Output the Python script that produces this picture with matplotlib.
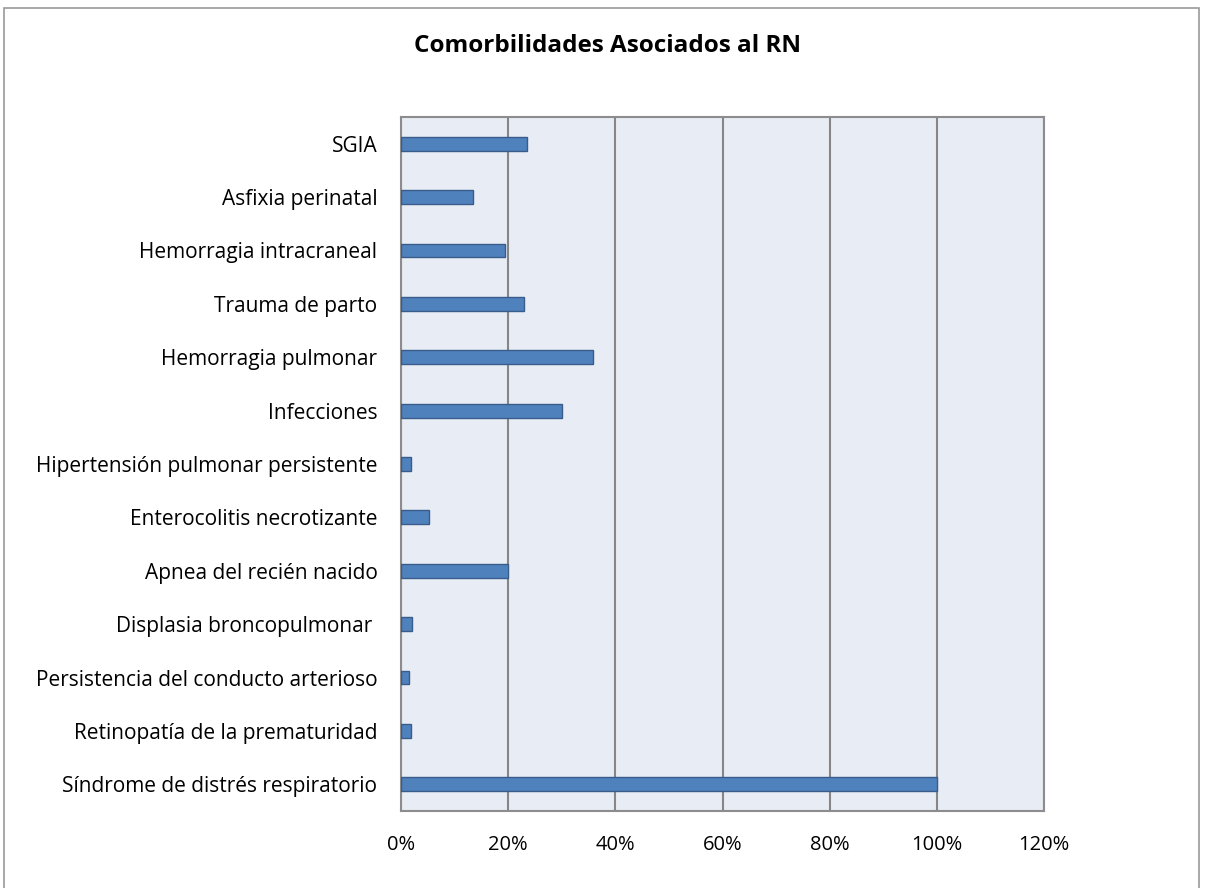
import matplotlib
matplotlib.use("Agg")
import matplotlib.pyplot as plt
from matplotlib.patches import Rectangle

# Comorbidities, listed bottom to top as drawn on the y axis
categories = [
    "Síndrome de distrés respiratorio",
    "Retinopatía de la prematuridad",
    "Persistencia del conducto arterioso",
    "Displasia broncopulmonar ",
    "Apnea del recién nacido",
    "Enterocolitis necrotizante",
    "Hipertensión pulmonar persistente",
    "Infecciones",
    "Hemorragia pulmonar",
    "Trauma de parto",
    "Hemorragia intracraneal",
    "Asfixia perinatal",
    "SGIA",
]
# Share of newborns with each comorbidity (%)
values = [100, 1.9, 1.4, 2.1, 20, 5.3, 1.8, 30.1, 35.9, 22.9, 19.4, 13.5, 23.5]
x_ticks = [0, 20, 40, 60, 80, 100, 120]
x_tick_labels = ["0%", "20%", "40%", "60%", "80%", "100%", "120%"]
title = "Comorbilidades Asociados al RN"

plt.rcParams["font.family"] = ["Open Sans", "DejaVu Sans"]

fig = plt.figure(figsize=(12.05, 8.88), dpi=100)
fig.patch.set_facecolor("white")

# Outer chart frame
fig.add_artist(Rectangle((4 / 1205, -0.01), 1195 / 1205, 1 - 8 / 888 + 0.01,
                         transform=fig.transFigure, fill=False,
                         edgecolor="#9a9a9a", linewidth=1.2))

ax = fig.add_axes([401 / 1205, 1 - 811 / 888, 643 / 1205, 694 / 888])
ax.set_facecolor("#e8ecf4")

y = list(range(len(categories)))
ax.barh(y, values, height=0.26, color="#4f81bd", edgecolor="#385d8a",
        linewidth=1.0, zorder=3)

ax.set_xlim(0, 120)
ax.set_ylim(-0.5, len(categories) - 0.5)
ax.set_xticks(x_ticks)
ax.set_xticklabels(x_tick_labels)
ax.set_yticks(y)
ax.set_yticklabels(categories)
ax.tick_params(axis="x", length=0, pad=17, labelsize=14.5, colors="black")
ax.tick_params(axis="y", length=0, pad=17, labelsize=15, colors="black")

ax.grid(axis="x", color="#868686", linewidth=1.5, zorder=1)
ax.grid(axis="y", visible=False)
for s in ax.spines.values():
    s.set_color("#8c8c8c")
    s.set_linewidth(1.5)

fig.text(608 / 1205, 1 - 46 / 888, title, ha="center", va="center",
         fontsize=17.5, fontweight="bold", color="black")

fig.savefig("out.png", dpi=100)
